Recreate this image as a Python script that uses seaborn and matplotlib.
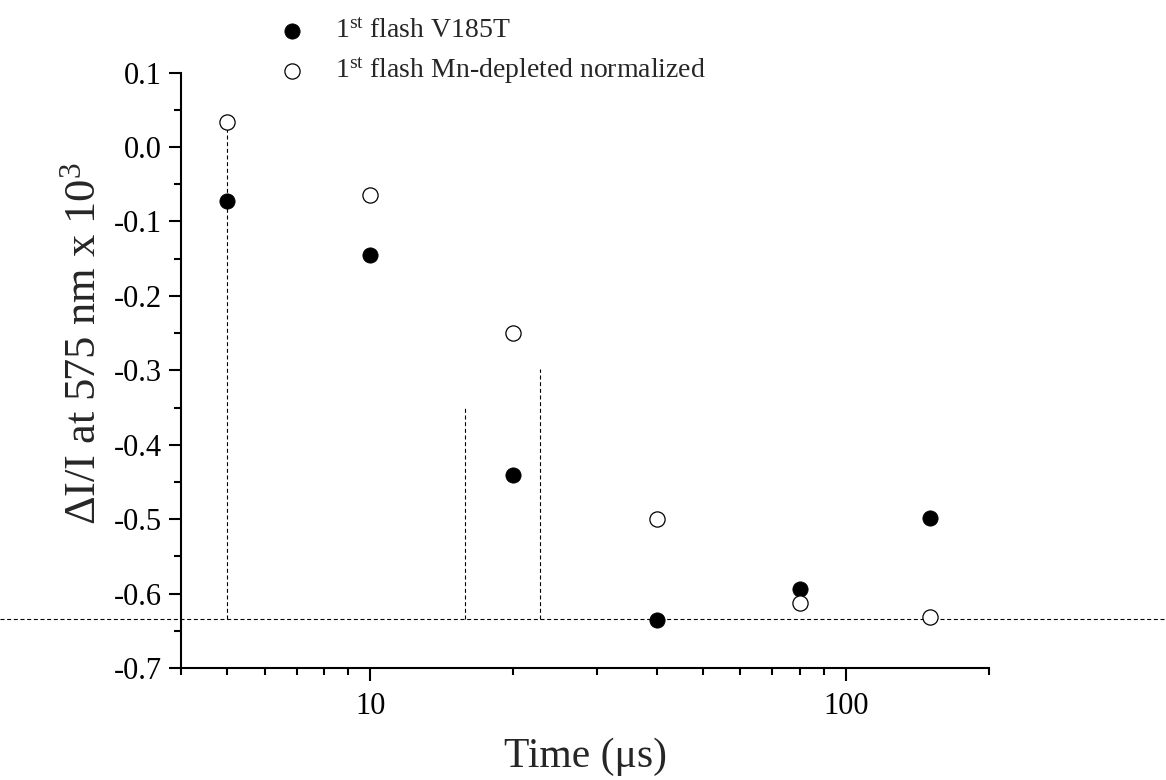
import numpy as np
import pandas as pd
import matplotlib
matplotlib.use("Agg")
import matplotlib.pyplot as plt
from matplotlib.ticker import LogLocator, NullFormatter, FixedLocator, MultipleLocator
import seaborn as sns

time_us = [5, 10, 20, 40, 80, 150]
v185t = [-0.072, -0.145, -0.441, -0.635, -0.594, -0.499]
mn_depleted = [0.034, -0.0645, -0.250, -0.500, -0.613, -0.632]

ref_level = -0.634
guide_x = [5, 15.8, 22.7]
guide_top = [0.026, -0.35, -0.298]

label_v185t = r"1$^{\rm st}$ flash V185T"
label_mn = r"1$^{\rm st}$ flash Mn-depleted normalized"

sns.set_theme(style="ticks")
plt.rcParams["font.family"] = ["Liberation Serif", "DejaVu Serif"]
plt.rcParams["mathtext.fontset"] = "custom"
plt.rcParams["mathtext.rm"] = "Liberation Serif"
plt.rcParams["mathtext.it"] = "Liberation Serif:italic"
plt.rcParams["axes.unicode_minus"] = False

df = pd.DataFrame({"time": time_us, "v185t": v185t, "mn": mn_depleted})

fig = plt.figure(figsize=(11.66, 7.8), dpi=100)
ax = fig.add_axes([181 / 1166, 1 - 668 / 780, 808 / 1166, (668 - 72.6) / 780])

dash = (0, (3.6, 2.4))
ax.axhline(ref_level, xmin=-181 / 808, xmax=(1166 - 181) / 808, color="black",
           lw=0.8, ls=dash, clip_on=False, zorder=1)
ax.vlines(guide_x, ref_level, guide_top, color="black", lw=0.8, linestyles=dash, zorder=1)

sns.scatterplot(data=df, x="time", y="v185t", ax=ax, color="black", s=120,
                edgecolor="black", linewidth=0.6, label=label_v185t, zorder=3)
sns.scatterplot(data=df, x="time", y="mn", ax=ax, facecolor="white", s=120,
                edgecolor="black", linewidth=0.9, label=label_mn, zorder=3)

ax.set_xscale("log")
ax.set_xlim(4, 200)
ax.set_ylim(-0.7, 0.1)
ax.xaxis.set_major_locator(FixedLocator([10, 100]))
ax.xaxis.set_major_formatter(plt.FuncFormatter(lambda v, p: f"{v:g}"))
ax.xaxis.set_minor_locator(LogLocator(base=10, subs=np.arange(2, 10), numticks=20))
ax.xaxis.set_minor_formatter(NullFormatter())
ax.yaxis.set_major_locator(MultipleLocator(0.1))
ax.yaxis.set_minor_locator(MultipleLocator(0.05))
ax.yaxis.set_major_formatter(plt.FuncFormatter(lambda v, p: f"{v:.1f}"))

for side in ["top", "right"]:
    ax.spines[side].set_visible(False)
for side in ["left", "bottom"]:
    ax.spines[side].set_linewidth(1.5)
    ax.spines[side].set_color("black")

ax.tick_params(which="major", direction="out", length=9, width=1.5, colors="black",
               labelsize=22, pad=5)
ax.tick_params(which="minor", direction="out", length=5, width=1.5, colors="black")
ax.tick_params(axis="x", which="major", pad=8)

ax.set_xlabel("Time (\u03bcs)", fontsize=30, labelpad=12)
ax.set_ylabel(r"$\Delta$I/I at 575 nm x 10$^3$", fontsize=32)
ax.yaxis.set_label_coords(-0.095, 0.545)

ax.legend(loc="upper left", bbox_to_anchor=(278 / 1166, 1 - 19 / 780),
          bbox_transform=fig.transFigure, frameon=False, fontsize=20,
          handlelength=1.0, handletextpad=1.05, borderpad=0, borderaxespad=0,
          labelspacing=0.42, markerscale=1.0)

fig.savefig("out.png", dpi=100)
